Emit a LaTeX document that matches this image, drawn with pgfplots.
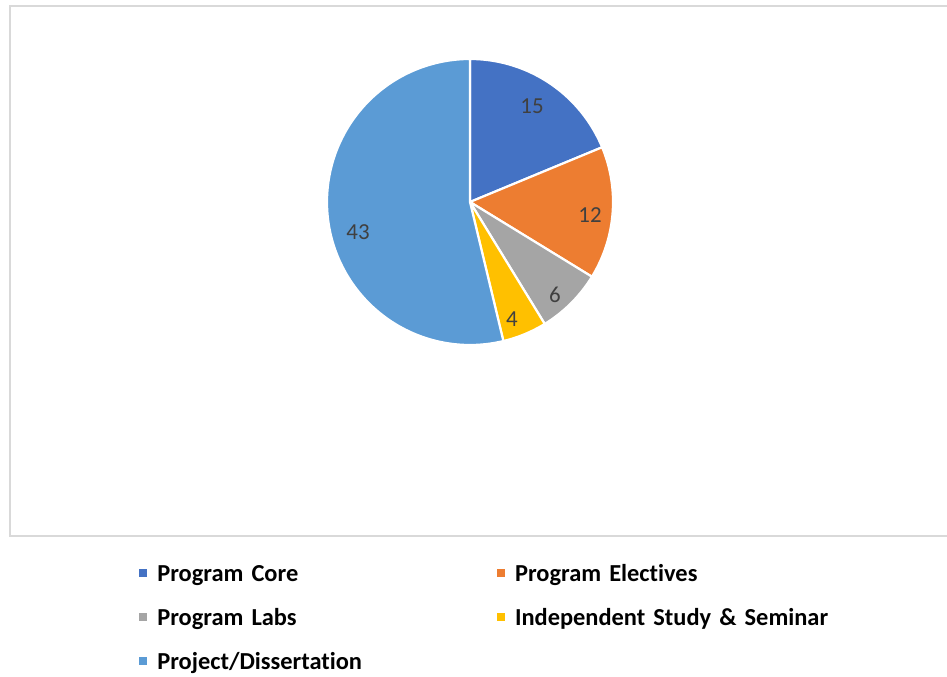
\documentclass[border=0pt]{standalone}
\usepackage{pgfplots}
\pgfplotsset{compat=1.18}
\usepackage{fontspec}
\setmainfont{Carlito}[RawFeature={-liga}]
\definecolor{cCore}{HTML}{4472C4}
\definecolor{cElec}{HTML}{ED7D31}
\definecolor{cLabs}{HTML}{A5A5A5}
\definecolor{cInd}{HTML}{FFC000}
\definecolor{cProj}{HTML}{5B9BD5}
\definecolor{frame}{HTML}{D9D9D9}
\definecolor{lbl}{HTML}{404040}
% values: Core 15, Electives 12, Labs 6, Independent 4, Project 43 (total 80)
% start at 90 deg, clockwise; angle = value/80*360
\begin{document}
\begin{tikzpicture}
\begin{axis}[name=ax,
  width=947bp, height=677bp, scale only axis,
  xmin=0, xmax=947, ymin=0, ymax=677, hide axis,
  legend columns=2,
  legend cell align=left,
  legend image code/.code={\fill[#1] (-1bp,-3bp) rectangle (9.5bp,7.5bp);},
  legend style={at={(0.1441,0.1669)}, anchor=north west, draw=none, fill=none,
    inner sep=0pt, row sep=22bp,
    font=\fontsize{24.5}{24.5}\selectfont\bfseries,
    nodes={inner sep=0pt, text height=17bp, text depth=5bp, text width=337bp, align=left},
    /tikz/every odd column/.append style={column sep=8bp},
    /tikz/every even column/.append style={column sep=0bp}},
]
\draw[frame, line width=2bp] (axis cs:9.5,141) rectangle (axis cs:990,670.5);
\addplot[fill=cCore, draw=white, line width=2.2bp, line join=round, domain=22.5:90, samples=60]
  ({470+143*cos(x)},{475+143*sin(x)}) -- (axis cs:470,475) -- cycle;
\addlegendentry{Program Core}
\addplot[fill=cElec, draw=white, line width=2.2bp, line join=round, domain=-31.5:22.5, samples=60]
  ({470+143*cos(x)},{475+143*sin(x)}) -- (axis cs:470,475) -- cycle;
\addlegendentry{Program Electives}
\addplot[fill=cLabs, draw=white, line width=2.2bp, line join=round, domain=-58.5:-31.5, samples=40]
  ({470+143*cos(x)},{475+143*sin(x)}) -- (axis cs:470,475) -- cycle;
\addlegendentry{Program Labs}
\addplot[fill=cInd, draw=white, line width=2.2bp, line join=round, domain=-76.5:-58.5, samples=30]
  ({470+143*cos(x)},{475+143*sin(x)}) -- (axis cs:470,475) -- cycle;
\addlegendentry{Independent Study \& Seminar}
\addplot[fill=cProj, draw=white, line width=2.2bp, line join=round, domain=90:283.5, samples=150]
  ({470+143*cos(x)},{475+143*sin(x)}) -- (axis cs:470,475) -- cycle;
\addlegendentry{Project/Dissertation}
\begin{scope}[every node/.style={text=lbl, font=\fontsize{23}{23}\selectfont, inner sep=0pt}]
\node at (axis cs:532,571) {15};
\node at (axis cs:590,462) {12};
\node at (axis cs:555,382) {6};
\node at (axis cs:512,358) {4};
\node at (axis cs:358,445) {43};
\end{scope}
\end{axis}
\pgfresetboundingbox
\useasboundingbox (ax.south west) rectangle (ax.north east);
\end{tikzpicture}
\end{document}
